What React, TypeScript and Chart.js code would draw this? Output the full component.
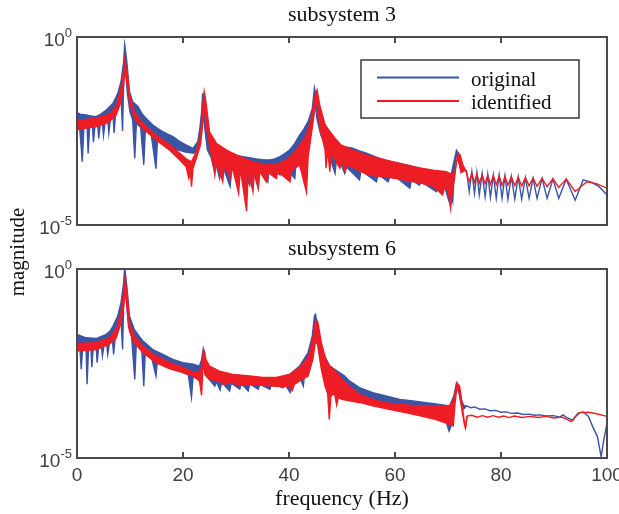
import React, { useEffect, useRef } from 'react';
import { Chart, registerables } from 'chart.js';

Chart.register(...registerables);

const W = 619;
const H = 514;

const freqTicks = [0, 20, 40, 60, 80, 100];
const magExponents = [0, -5];
const panelTitles = ['subsystem 3', 'subsystem 6'];
const seriesNames = ['original', 'identified'];
const xTitle = 'frequency (Hz)';
const yTitle = 'magnitude';

type Pair = [number, number];

// [frequency (Hz), log10(magnitude)] — upper and lower edges of each dense trace
const s3OrigHi: Pair[] = [[0,-2.01],[0.6,-2.05],[1.7,-2.07],[2.6,-2.1],[3.6,-2.12],[4.5,-2.05],[5.5,-1.94],[6.2,-1.85],[6.8,-1.76],[7.3,-1.62],[7.7,-1.5],[8.3,-1.19],[8.8,-0.66],[9.0,-0.2],[9.1,-0.3],[9.4,-0.66],[9.9,-1.45],[10.5,-1.72],[11.5,-1.85],[12.4,-2.07],[13.3,-2.2],[14.3,-2.34],[15.2,-2.43],[16.2,-2.52],[17.1,-2.58],[18.1,-2.65],[19.0,-2.74],[20.0,-2.83],[21.0,-2.9],[21.9,-2.96],[22.8,-2.78],[23.2,-2.4],[23.5,-2.0],[23.7,-1.5],[23.9,-1.7],[24.1,-2.0],[24.5,-2.52],[25.3,-2.87],[26.2,-2.96],[26.9,-3.01],[27.9,-3.06],[28.8,-3.09],[30.0,-3.14],[31.3,-3.18],[32.5,-3.21],[33.8,-3.24],[35.0,-3.26],[36.4,-3.27],[37.3,-3.24],[38.3,-3.18],[39.2,-3.1],[40.1,-3.01],[41.0,-2.85],[42.0,-2.61],[42.8,-2.45],[43.6,-2.25],[44.4,-1.9],[44.8,-1.35],[45.0,-1.5],[45.4,-1.72],[45.9,-2.0],[46.5,-2.25],[47.4,-2.55],[48.3,-2.78],[49.5,-2.87],[50.5,-2.92],[52.0,-2.96],[53.3,-3.03],[54.6,-3.09],[55.9,-3.16],[57.1,-3.23],[58.4,-3.28],[59.6,-3.32],[60.9,-3.36],[62.1,-3.4],[63.4,-3.45],[64.6,-3.49],[65.9,-3.53],[67.2,-3.58],[68.2,-3.6],[69.1,-3.63],[70.0,-3.65],[70.6,-3.67],[71.1,-3.32],[71.6,-3.01],[72.0,-3.09],[72.5,-3.4],[73.0,-3.54],[73.5,-3.56],[74.0,-4.11],[74.5,-3.58],[75.0,-4.16],[75.45,-3.6],[75.9,-4.2],[76.45,-3.63],[77.0,-4.25],[77.5,-3.65],[78.0,-4.27],[78.55,-3.67],[79.1,-4.29],[79.65,-3.67],[80.2,-4.29],[80.75,-3.69],[81.3,-4.31],[81.95,-3.71],[82.6,-4.31],[83.25,-3.72],[83.9,-4.31],[84.6,-3.74],[85.3,-4.29],[86.05,-3.76],[86.8,-4.29],[87.75,-3.76],[88.7,-4.29],[89.8,-3.78],[90.9,-4.29],[92.3,-3.78],[94.0,-4.34],[95.5,-3.8],[97.0,-3.86],[98.5,-3.98],[100,-4.2]];
const s3OrigLo: Pair[] = [[0,-2.38],[0.5,-2.4],[1.0,-3.32],[1.3,-2.4],[1.9,-2.35],[2.1,-3.1],[2.4,-2.35],[2.9,-2.35],[3.1,-2.8],[3.4,-2.35],[3.9,-2.33],[4.1,-2.7],[4.4,-2.32],[4.8,-2.3],[5.0,-2.62],[5.3,-2.27],[5.8,-2.22],[6.0,-2.55],[6.3,-2.2],[6.8,-2.1],[7.0,-2.55],[7.3,-2.0],[7.8,-1.85],[8.3,-1.6],[8.6,-2.5],[8.8,-1.2],[9.0,-0.4],[9.2,-0.9],[9.5,-1.5],[10.0,-2.0],[10.5,-2.2],[10.9,-3.23],[11.2,-2.3],[12.0,-2.4],[12.6,-3.4],[12.9,-2.45],[14.0,-2.6],[14.9,-3.5],[15.2,-2.7],[16.5,-2.85],[18.0,-2.96],[19.5,-3.02],[20.5,-3.06],[22.0,-3.09],[22.8,-3.0],[23.3,-2.6],[23.7,-1.9],[24.1,-2.4],[24.6,-3.0],[25.3,-3.2],[25.8,-3.49],[26.1,-3.3],[26.9,-3.76],[27.3,-3.35],[28.9,-3.98],[29.2,-3.38],[30.5,-3.85],[30.8,-3.38],[32.6,-3.94],[32.9,-3.4],[34.2,-4.02],[34.5,-3.4],[36.0,-3.85],[36.3,-3.4],[38.3,-3.67],[38.6,-3.38],[41.1,-3.76],[41.4,-3.2],[42.5,-3.0],[43.5,-2.8],[44.3,-2.4],[44.8,-1.6],[45.3,-2.2],[46.0,-2.6],[47.0,-2.9],[48.7,-3.63],[49.0,-3.2],[50.0,-3.45],[50.5,-3.63],[50.8,-3.45],[53.3,-3.8],[53.6,-3.55],[56.5,-3.85],[56.8,-3.65],[58.7,-3.85],[59.0,-3.72],[60.5,-3.76],[62.8,-4.02],[63.1,-3.8],[64.6,-3.94],[64.9,-3.85],[67.8,-4.11],[68.1,-3.95],[69.5,-4.05],[70.3,-4.42],[70.6,-4.2],[70.9,-4.38],[71.2,-3.5],[71.6,-3.1],[72.0,-3.3],[72.5,-3.6],[73.0,-3.54]];
const s3IdenHi: Pair[] = [[0,-2.23],[1.5,-2.2],[3.6,-2.16],[5.0,-2.1],[6.1,-2.06],[7.4,-1.85],[8.3,-1.37],[8.8,-0.92],[9.0,-0.59],[9.3,-0.85],[9.5,-0.97],[9.9,-1.54],[10.8,-1.99],[12.4,-2.3],[14.9,-2.61],[17.5,-2.87],[19.4,-3.09],[20.6,-3.24],[21.6,-3.32],[22.5,-3.05],[23.3,-2.61],[23.6,-2.1],[23.8,-1.72],[24.0,-1.45],[24.2,-1.6],[24.4,-1.81],[25.0,-2.52],[26.3,-2.83],[28.2,-3.01],[30.7,-3.18],[33.2,-3.32],[35.7,-3.4],[37.6,-3.4],[39.5,-3.27],[41.4,-3.01],[43.3,-2.61],[44.2,-2.16],[44.9,-1.59],[45.3,-1.41],[45.8,-1.81],[46.8,-2.34],[48.7,-2.7],[49.8,-2.87],[52.0,-3.01],[54.6,-3.14],[57.1,-3.23],[59.6,-3.32],[62.1,-3.4],[64.6,-3.48],[67.2,-3.54],[69.7,-3.58],[70.9,-3.67],[71.4,-3.49],[71.9,-3.09],[72.3,-3.14],[72.8,-3.4],[73.3,-3.54],[74.0,-3.85],[74.5,-3.63],[75.0,-3.87],[75.45,-3.65],[75.9,-3.89],[76.45,-3.67],[77.0,-3.9],[77.5,-3.68],[78.0,-3.92],[78.55,-3.69],[79.1,-3.93],[79.65,-3.7],[80.2,-3.94],[80.75,-3.71],[81.3,-3.94],[81.95,-3.72],[82.6,-3.95],[83.25,-3.73],[83.9,-3.96],[84.6,-3.74],[85.3,-3.96],[86.05,-3.75],[86.8,-3.97],[87.75,-3.76],[88.7,-3.98],[89.8,-3.77],[90.9,-4.0],[92.3,-3.78],[94.0,-4.11],[96.2,-3.85],[98.0,-3.9],[100,-4.02]];
const s3IdenLo: Pair[] = [[0,-2.47],[1.5,-2.43],[3.6,-2.38],[5.0,-2.32],[6.1,-2.25],[7.4,-2.07],[8.3,-1.72],[8.8,-1.28],[9.0,-0.9],[9.3,-1.1],[9.5,-1.28],[9.9,-1.72],[10.8,-2.16],[12.4,-2.43],[14.9,-2.74],[17.5,-3.01],[19.4,-3.27],[20.6,-3.45],[21.1,-3.76],[21.4,-3.6],[21.6,-3.98],[21.9,-3.49],[22.5,-3.23],[23.3,-2.87],[23.8,-2.2],[24.0,-1.78],[24.3,-2.3],[25.0,-2.87],[25.6,-3.3],[26.0,-3.67],[26.3,-3.35],[27.5,-3.85],[27.8,-3.4],[29.0,-3.76],[29.3,-3.45],[30.5,-4.16],[30.8,-3.5],[32.0,-4.63],[32.3,-3.55],[33.2,-4.11],[33.5,-3.55],[34.2,-4.02],[34.5,-3.58],[35.7,-3.85],[36.0,-3.6],[37.6,-3.76],[37.9,-3.58],[40.2,-3.85],[40.5,-3.55],[42.0,-3.4],[43.3,-4.13],[43.6,-3.2],[44.2,-2.6],[44.9,-1.9],[45.3,-1.7],[45.8,-2.4],[46.8,-3.0],[47.0,-3.49],[47.3,-3.0],[47.7,-3.58],[48.0,-3.1],[49.6,-3.49],[50.0,-3.3],[50.6,-3.58],[51.0,-3.4],[55.0,-3.67],[60.0,-3.76],[65.0,-3.89],[67.0,-3.95],[69.0,-4.2],[69.3,-4.0],[70.0,-4.07],[70.5,-4.56],[70.8,-4.1],[71.2,-3.8],[71.6,-3.3],[72.0,-3.3],[72.5,-3.6],[73.3,-3.54]];

const s6OrigHi: Pair[] = [[0,-1.73],[1.7,-1.82],[3.6,-1.84],[5.5,-1.73],[6.2,-1.65],[6.8,-1.51],[7.7,-1.24],[8.3,-0.89],[8.8,-0.36],[9.0,0.05],[9.2,-0.2],[9.4,-0.45],[9.9,-1.24],[10.8,-1.6],[12.4,-1.9],[14.3,-2.13],[16.2,-2.26],[18.1,-2.39],[20.0,-2.48],[21.9,-2.52],[23.1,-2.57],[23.5,-2.4],[23.8,-2.13],[24.0,-2.3],[24.4,-2.57],[26.3,-2.7],[28.8,-2.79],[31.3,-2.83],[33.8,-2.87],[36.4,-2.92],[38.3,-2.87],[40.1,-2.79],[42.0,-2.57],[43.6,-2.21],[44.4,-1.77],[44.8,-1.24],[45.0,-1.2],[45.3,-1.42],[46.1,-2.13],[47.7,-2.57],[50.5,-2.83],[51.4,-2.96],[53.3,-3.14],[55.8,-3.27],[58.3,-3.36],[60.9,-3.45],[63.4,-3.49],[65.9,-3.54],[68.4,-3.58],[70.3,-3.62],[71.1,-3.36],[71.6,-3.01],[72.1,-3.14],[72.5,-3.45],[73.0,-3.62],[73.5,-3.62],[74.3,-3.67],[75.0,-3.65],[76.0,-3.71],[77.0,-3.7],[77.9,-3.75],[79.0,-3.74],[80.0,-3.79],[81.0,-3.78],[82.0,-3.82],[83.1,-3.81],[84.2,-3.85],[85.3,-3.84],[86.3,-3.87],[87.3,-3.86],[88.5,-3.89],[89.9,-3.88],[91.1,-3.92],[91.7,-3.86],[92.4,-3.93],[93.6,-4.0],[94.5,-3.81],[95.5,-3.78],[96.5,-3.9],[97.3,-4.17],[98.2,-4.44],[98.9,-4.97],[99.3,-4.6],[100,-4.07]];
const s6OrigLo: Pair[] = [[0,-1.99],[0.5,-2.0],[0.8,-2.65],[1.1,-2.0],[1.7,-2.02],[1.9,-3.05],[2.2,-2.02],[2.6,-2.03],[2.8,-2.6],[3.1,-2.03],[3.6,-2.04],[3.8,-2.48],[4.1,-2.04],[4.6,-2.04],[4.8,-2.3],[5.1,-2.03],[5.6,-2.0],[5.8,-2.26],[6.1,-1.98],[6.7,-1.9],[6.9,-2.26],[7.2,-1.85],[7.8,-1.6],[8.3,-1.35],[8.6,-2.13],[8.8,-1.0],[9.0,-0.3],[9.3,-0.8],[9.7,-1.5],[10.3,-1.8],[10.9,-2.92],[11.2,-1.95],[12.2,-2.08],[12.6,-3.1],[12.9,-2.15],[14.0,-2.3],[14.9,-2.83],[15.2,-2.4],[16.5,-2.5],[18.1,-2.61],[20.0,-2.74],[21.0,-2.8],[21.6,-3.4],[21.9,-2.85],[22.8,-2.86],[23.2,-2.8],[23.8,-2.4],[24.2,-2.8],[24.8,-2.9],[26.0,-3.1],[26.3,-2.98],[27.0,-3.2],[27.3,-3.0],[28.8,-3.23],[29.1,-3.02],[30.7,-3.18],[31.0,-3.03],[32.3,-3.23],[32.6,-3.04],[34.2,-3.18],[34.5,-3.05],[36.4,-3.18],[36.7,-3.05],[38.9,-3.14],[39.2,-3.04],[40.2,-3.27],[40.5,-3.0],[42.0,-2.85],[42.7,-3.1],[43.0,-2.7],[44.0,-2.3],[44.8,-1.5],[45.3,-1.8],[46.0,-2.5],[47.0,-2.85],[48.5,-3.05],[50.0,-3.2],[51.4,-3.3],[53.3,-3.4],[55.8,-3.49],[59.0,-3.58],[62.0,-3.67],[65.3,-3.8],[67.8,-3.93],[69.7,-4.07],[70.2,-4.29],[70.6,-4.15],[71.1,-3.6],[71.6,-3.1],[72.1,-3.3],[72.5,-3.6],[73.0,-3.7],[73.5,-3.62]];
const s6IdenHi: Pair[] = [[0,-1.97],[3.6,-1.95],[6.1,-1.82],[7.4,-1.6],[8.3,-1.16],[8.8,-0.63],[9.0,-0.27],[9.3,-0.5],[9.5,-0.71],[9.9,-1.42],[10.8,-1.77],[12.4,-2.04],[14.9,-2.3],[17.5,-2.48],[20.0,-2.61],[21.9,-2.72],[23.1,-2.74],[23.6,-2.57],[23.9,-2.13],[24.1,-2.2],[24.3,-2.39],[25.0,-2.57],[26.9,-2.7],[29.4,-2.79],[32.6,-2.83],[35.1,-2.87],[37.6,-2.87],[40.1,-2.79],[42.0,-2.61],[43.6,-2.35],[44.5,-1.86],[45.0,-1.38],[45.4,-1.38],[46.1,-1.95],[47.1,-2.48],[49.0,-2.74],[50.0,-2.92],[51.4,-3.1],[53.3,-3.32],[55.8,-3.45],[58.3,-3.54],[60.9,-3.58],[63.4,-3.61],[65.9,-3.62],[68.4,-3.62],[70.3,-3.62],[71.1,-3.45],[71.7,-3.01],[72.2,-3.1],[72.7,-3.62],[73.1,-4.07],[73.3,-4.2],[73.6,-3.89],[74.5,-3.87],[75.5,-3.92],[76.5,-3.88],[77.5,-3.92],[78.5,-3.88],[79.5,-3.92],[80.5,-3.89],[81.5,-3.93],[82.5,-3.89],[84.0,-3.93],[85.5,-3.9],[87.0,-3.93],[88.5,-3.9],[90.0,-3.94],[91.5,-3.92],[92.4,-3.98],[93.3,-4.04],[93.9,-3.92],[94.9,-3.8],[96.5,-3.79],[98.0,-3.83],[100,-3.9]];
const s6IdenLo: Pair[] = [[0,-2.17],[3.6,-2.13],[6.1,-1.99],[7.4,-1.82],[8.3,-1.42],[8.8,-0.98],[9.0,-0.7],[9.3,-0.8],[9.5,-1.1],[9.9,-1.64],[10.8,-1.95],[12.4,-2.21],[14.9,-2.48],[17.5,-2.64],[20.0,-2.74],[21.9,-2.83],[23.1,-2.96],[23.5,-3.34],[23.7,-2.8],[23.9,-2.5],[24.2,-2.8],[25.0,-2.92],[26.9,-2.96],[27.5,-3.05],[29.4,-3.01],[30.5,-3.08],[32.6,-3.05],[35.1,-3.08],[37.6,-3.1],[40.1,-3.1],[40.6,-3.22],[41.0,-3.05],[42.0,-2.96],[43.6,-2.83],[44.5,-2.39],[45.0,-1.9],[45.4,-2.0],[46.1,-2.65],[46.8,-3.1],[47.3,-3.3],[47.6,-3.98],[47.9,-3.36],[48.6,-3.3],[49.0,-3.6],[49.3,-3.4],[50.0,-3.45],[51.4,-3.49],[53.3,-3.53],[55.8,-3.62],[58.9,-3.71],[62.0,-3.8],[65.0,-3.89],[67.6,-3.98],[69.5,-4.07],[71.0,-4.15],[71.3,-3.6],[71.7,-3.1],[72.2,-3.3],[72.7,-3.8],[73.1,-4.1],[73.3,-4.2],[73.6,-3.89]];

const BLUE = '#3b55a5';
const RED = '#ee1d25';
const AXIS = '#4a4a4a';
const TEXT = '#111111';
const TICK_TEXT = '#404040';
const SERIF = '"Liberation Serif", "Times New Roman", serif';
const SANS = '"Liberation Sans", Arial, sans-serif';

const toPts = (a: Pair[]) => a.map(([f, e]) => ({ x: f, y: Math.pow(10, e) }));

function band(hi: Pair[], lo: Pair[], color: string, name: string, order: number) {
  const common = { borderColor: color, backgroundColor: color, borderWidth: 1.4, pointRadius: 0, tension: 0, order };
  return [
    { ...common, label: name, data: toPts(hi), fill: '+1' },
    { ...common, label: name + ' lower', data: toPts(lo), fill: false },
  ];
}

function framePlugin(opts: { title: string; titleGap: number; legend: boolean; yLabel: boolean }) {
  return {
    id: 'frame',
    afterDraw(chart: any) {
      const { ctx, chartArea: a } = chart;
      const xs = chart.scales.x;
      const ys = chart.scales.y;
      ctx.save();
      // axes box
      ctx.strokeStyle = AXIS;
      ctx.lineWidth = 2;
      ctx.strokeRect(a.left, a.top, a.right - a.left, a.bottom - a.top);
      // inward tick marks
      ctx.beginPath();
      for (const t of freqTicks) {
        const px = Math.round(xs.getPixelForValue(t));
        ctx.moveTo(px, a.bottom);
        ctx.lineTo(px, a.bottom - 6);
        ctx.moveTo(px, a.top);
        ctx.lineTo(px, a.top + 6);
      }
      ctx.stroke();
      // y tick labels 10^k
      ctx.fillStyle = TICK_TEXT;
      ctx.textAlign = 'left';
      ctx.textBaseline = 'alphabetic';
      for (const ex of magExponents) {
        const py = ys.getPixelForValue(Math.pow(10, ex));
        const sup = String(ex);
        ctx.font = `13px ${SANS}`;
        const sw = ctx.measureText(sup).width;
        ctx.font = `19px ${SANS}`;
        const bw = ctx.measureText('10').width;
        const right = a.left - 5;
        ctx.fillText('10', right - sw - bw, py + 8.7);
        ctx.font = `13px ${SANS}`;
        ctx.fillText(sup, right - sw, py - 0.5);
      }
      // panel title
      ctx.fillStyle = TEXT;
      ctx.font = `22px ${SERIF}`;
      ctx.textAlign = 'center';
      ctx.fillText(opts.title, (a.left + a.right) / 2, a.top - opts.titleGap);
      if (opts.legend) {
        const bx = a.right - 246;
        const by = a.top + 23;
        const bw = 218;
        const bh = 58;
        ctx.fillStyle = '#ffffff';
        ctx.fillRect(bx, by, bw, bh);
        ctx.strokeStyle = '#3a3a3a';
        ctx.lineWidth = 1.5;
        ctx.strokeRect(bx, by, bw, bh);
        const rows: [string, string, number, number][] = [
          [seriesNames[0], BLUE, 17.5, 25.7],
          [seriesNames[1], RED, 41, 49],
        ];
        for (const [name, color, ly, ty] of rows) {
          ctx.strokeStyle = color;
          ctx.lineWidth = 2;
          ctx.beginPath();
          ctx.moveTo(bx + 16, by + ly);
          ctx.lineTo(bx + 98, by + ly);
          ctx.stroke();
          ctx.fillStyle = TEXT;
          ctx.font = `21px ${SERIF}`;
          ctx.textAlign = 'left';
          ctx.fillText(name, bx + 110, by + ty);
        }
      }
      if (opts.yLabel) {
        ctx.fillStyle = TEXT;
        ctx.font = `21px ${SERIF}`;
        ctx.textAlign = 'center';
        ctx.translate(24, 252);
        ctx.rotate(-Math.PI / 2);
        ctx.fillText(yTitle, 0, 0);
      }
      ctx.restore();
    },
  };
}

function makeConfig(panel: number): any {
  const top = panel === 0;
  const datasets = top
    ? [...band(s3IdenHi, s3IdenLo, RED, seriesNames[1], 0), ...band(s3OrigHi, s3OrigLo, BLUE, seriesNames[0], 1)]
    : [...band(s6IdenHi, s6IdenLo, RED, seriesNames[1], 0), ...band(s6OrigHi, s6OrigLo, BLUE, seriesNames[0], 1)];
  const xScale: any = {
    type: 'linear',
    min: 0,
    max: 100,
    display: !top,
    grid: { display: false, drawTicks: false },
    border: { display: false },
    ticks: {
      stepSize: 20,
      autoSkip: false,
      maxRotation: 0,
      padding: 6,
      color: TICK_TEXT,
      font: { family: SANS, size: 19 },
    },
    title: {
      display: !top,
      text: xTitle,
      color: TEXT,
      font: { family: SERIF, size: 22 },
      padding: { top: 0, bottom: 2 },
    },
  };
  if (!top) {
    xScale.afterFit = (s: any) => {
      s.height = 56;
      s.paddingLeft = 0;
      s.paddingRight = 0;
    };
  }
  return {
    type: 'line',
    data: { datasets },
    options: {
      responsive: false,
      animation: false,
      devicePixelRatio: 1,
      layout: {
        padding: top
          ? { top: 37, left: 77, right: 12, bottom: 289 }
          : { top: 269, left: 77, right: 12, bottom: 0 },
      },
      plugins: { legend: { display: false }, tooltip: { enabled: false }, title: { display: false } },
      scales: {
        x: xScale,
        y: {
          type: 'logarithmic',
          min: 1e-5,
          max: 1,
          display: false,
        },
      },
    },
    plugins: [framePlugin({ title: panelTitles[panel], titleGap: top ? 16.5 : 14, legend: top, yLabel: !top })],
  };
}

export default function App() {
  const topRef = useRef<HTMLCanvasElement>(null);
  const botRef = useRef<HTMLCanvasElement>(null);
  useEffect(() => {
    const c1 = new Chart(topRef.current as HTMLCanvasElement, makeConfig(0));
    const c2 = new Chart(botRef.current as HTMLCanvasElement, makeConfig(1));
    return () => {
      c1.destroy();
      c2.destroy();
    };
  }, []);
  const cs: React.CSSProperties = { position: 'absolute', left: 0, top: 0, width: W, height: H };
  return (
    <div style={{ position: 'absolute', left: 0, top: 0, width: W, height: H, background: '#ffffff', overflow: 'hidden' }}>
      <canvas ref={topRef} width={W} height={H} style={cs} />
      <canvas ref={botRef} width={W} height={H} style={cs} />
    </div>
  );
}
